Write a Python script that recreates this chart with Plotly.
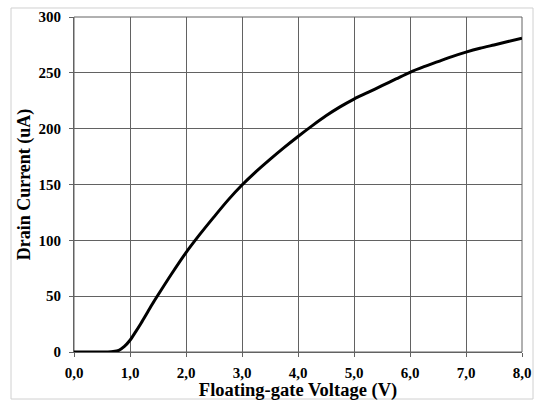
import plotly.graph_objects as go

voltage = [0.0, 0.2, 0.4, 0.6, 0.7, 0.8, 0.9, 1.0, 1.1, 1.2, 1.3, 1.4, 1.5, 1.75, 2.0, 2.25, 2.5, 2.75,
           3.0, 3.25, 3.5, 3.75, 4.0, 4.25, 4.5, 4.75, 5.0, 5.25, 5.5, 5.75, 6.0, 6.25, 6.5, 6.75,
           7.0, 7.25, 7.5, 7.75, 8.0]
current = [0, 0, 0, 0.1, 0.4, 1.5, 5, 10.5, 18, 26, 34.5, 43, 51, 70.5, 89, 105.5, 121, 136,
           149.5, 161.5, 172.5, 183, 193, 202.5, 211.5, 219.5, 226.5, 232.5, 238.5, 244.5, 250.5, 255.5,
           260, 264.5, 268.5, 272, 275, 278, 281]

x_ticks = [0, 1, 2, 3, 4, 5, 6, 7, 8]
x_ticktext = ["0,0", "1,0", "2,0", "3,0", "4,0", "5,0", "6,0", "7,0", "8,0"]
y_ticks = [0, 50, 100, 150, 200, 250, 300]
y_ticktext = ["0", "50", "100", "150", "200", "250", "300"]

font_family = "Liberation Serif"

fig = go.Figure()
fig.add_trace(go.Scatter(x=voltage, y=current, mode="lines",
                         line=dict(color="black", width=3, shape="spline", smoothing=0.8),
                         showlegend=False, hoverinfo="skip"))

grid_color = "#626262"
fig.update_layout(
    width=536, height=401,
    margin=dict(l=74, r=14, t=17, b=49, autoexpand=False),
    paper_bgcolor="white", plot_bgcolor="white",
    font=dict(family=font_family, color="black"),
    xaxis=dict(range=[0, 8], tickvals=x_ticks, ticktext=["<b>%s</b>" % t for t in x_ticktext],
               automargin=False,
               showgrid=True, gridcolor=grid_color, gridwidth=1,
               showline=True, linecolor=grid_color, linewidth=1,
               ticks="outside", ticklen=4, tickcolor=grid_color,
               tickfont=dict(size=15, family=font_family, color="black"),
               ticklabelstandoff=3,
               zeroline=False,
               title=dict(text="<b>Floating-gate Voltage (V)</b>",
                          font=dict(size=18.5, family=font_family, color="black"),
                          standoff=1)),
    yaxis=dict(range=[0, 300], tickvals=y_ticks, ticktext=["<b>%s</b>" % t for t in y_ticktext],
               automargin=False,
               showgrid=True, gridcolor=grid_color, gridwidth=1,
               showline=True, linecolor=grid_color, linewidth=1,
               ticks="outside", ticklen=4, tickcolor=grid_color,
               tickfont=dict(size=15, family=font_family, color="black"),
               ticklabelstandoff=5,
               zeroline=False,
               title=dict(text="<b>Drain Current (uA)</b>",
                          font=dict(size=18, family=font_family, color="black"),
                          standoff=3)),
)

# outer light-gray frame around the chart
fig.add_shape(type="rect", xref="paper", yref="paper",
              x0=-0.1406, x1=1.0246, y0=-0.1403, y1=1.0269,
              line=dict(color="#d0d0d0", width=1), layer="below")
# top/right plot border
fig.add_shape(type="rect", xref="paper", yref="paper", x0=0, x1=1, y0=0, y1=1,
              line=dict(color=grid_color, width=1), layer="below")

fig.write_html("out.html")
